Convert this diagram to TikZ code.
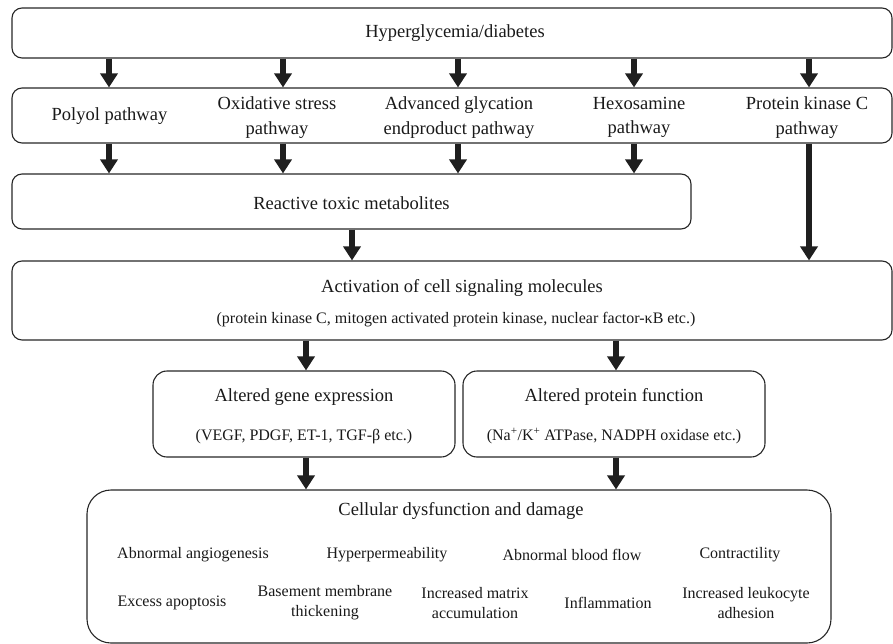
\documentclass[tikz,border=0pt]{standalone}
\usepackage{fontspec}
\setmainfont{Liberation Serif}
\usetikzlibrary{arrows.meta}
\begin{document}
\begin{tikzpicture}[x=1pt,y=-1pt,
  box/.style={draw=black!85, line width=1.1pt, rounded corners=10pt, inner sep=0pt},
  arr/.style={line width=6pt, draw=black!88, -{Triangle[width=17pt,length=14pt]}},
  lab/.style={font=\fontsize{18.5}{24.5}\selectfont, align=center, inner sep=0pt, text=black!90},
  sm/.style={font=\fontsize{16}{20}\selectfont, align=center, inner sep=0pt, text=black!90}]
\useasboundingbox (0,0) rectangle (893,644);

% boxes
\node[box, minimum width=880pt, minimum height=50pt] (top) at (452,33) {};
\node[box, minimum width=880pt, minimum height=55pt] (path) at (452,115.5) {};
\node[box, minimum width=679pt, minimum height=55pt] (react) at (351.5,201.5) {};
\node[box, minimum width=880pt, minimum height=79pt] (act) at (452,300.5) {};
\node[box, minimum width=302pt, minimum height=86pt, rounded corners=14pt] (gene) at (304,414) {};
\node[box, minimum width=302pt, minimum height=86pt, rounded corners=14pt] (prot) at (614,414) {};
\node[box, minimum width=744pt, minimum height=153pt, rounded corners=24pt] (cell) at (459,566.5) {};

% texts
\node[lab] (t0) at (455,33) {Hyperglycemia/diabetes};
\node[lab] (p1) at (109.5,116) {Polyol pathway};
\node[lab] (p2) at (277,117.5) {Oxidative stress\\pathway};
\node[lab] (p3) at (459,117.5) {Advanced glycation\\endproduct pathway};
\node[lab] (p4) at (639,117.5) {Hexosamine\\pathway};
\node[lab] (p5) at (807,117.5) {Protein kinase C\\pathway};
\node[lab] (t1) at (351.5,203) {Reactive toxic metabolites};
\node[lab] (t2) at (462,288) {Activation of cell signaling molecules};
\node[sm] (t3) at (456,320) {(protein kinase C, mitogen activated protein kinase, nuclear factor-κB etc.)};
\node[lab] (t4) at (304,397) {Altered gene expression};
\node[sm] (t5) at (304,437) {(VEGF, PDGF, ET-1, TGF-β etc.)};
\node[lab] (t6) at (614,397) {Altered protein function};
\node[sm] (t7) at (614,436) {(Na\textsuperscript{+}/K\textsuperscript{+} ATPase, NADPH oxidase etc.)};
\node[lab] (t8) at (461,511) {Cellular dysfunction and damage};
\node[sm] (e1) at (193,555) {Abnormal angiogenesis};
\node[sm] (e2) at (387,555) {Hyperpermeability};
\node[sm] (e3) at (572,555) {Abnormal blood flow};
\node[sm] (e4) at (740,555) {Contractility};
\node[sm] (e5) at (172,603) {Excess apoptosis};
\node[sm] (e6) at (325,603) {Basement membrane\\thickening};
\node[sm] (e7) at (475,603) {Increased matrix\\accumulation};
\node[sm] (e8) at (608,603) {Inflammation};
\node[sm] (e9) at (746,603) {Increased leukocyte\\adhesion};

% arrow x positions
\coordinate (c1) at (109,0);
\coordinate (c2) at (283,0);
\coordinate (c3) at (458,0);
\coordinate (c4) at (634,0);
\coordinate (c5) at (809,0);
\coordinate (c6) at (352,0);
\coordinate (c7) at (306,0);
\coordinate (c8) at (616,0);

\foreach \c in {c1,c2,c3,c4,c5}
  \draw[arr] (top.south -| \c) -- (path.north -| \c);
\foreach \c in {c1,c2,c3,c4}
  \draw[arr] (path.south -| \c) -- (react.north -| \c);
\draw[arr] (react.south -| c6) -- (act.north -| c6);
\draw[arr] (path.south -| c5) -- (act.north -| c5);
\draw[arr] (act.south -| c7) -- (gene.north -| c7);
\draw[arr] (act.south -| c8) -- (prot.north -| c8);
\draw[arr] (gene.south -| c7) -- (cell.north -| c7);
\draw[arr] (prot.south -| c8) -- (cell.north -| c8);
\end{tikzpicture}
\end{document}
